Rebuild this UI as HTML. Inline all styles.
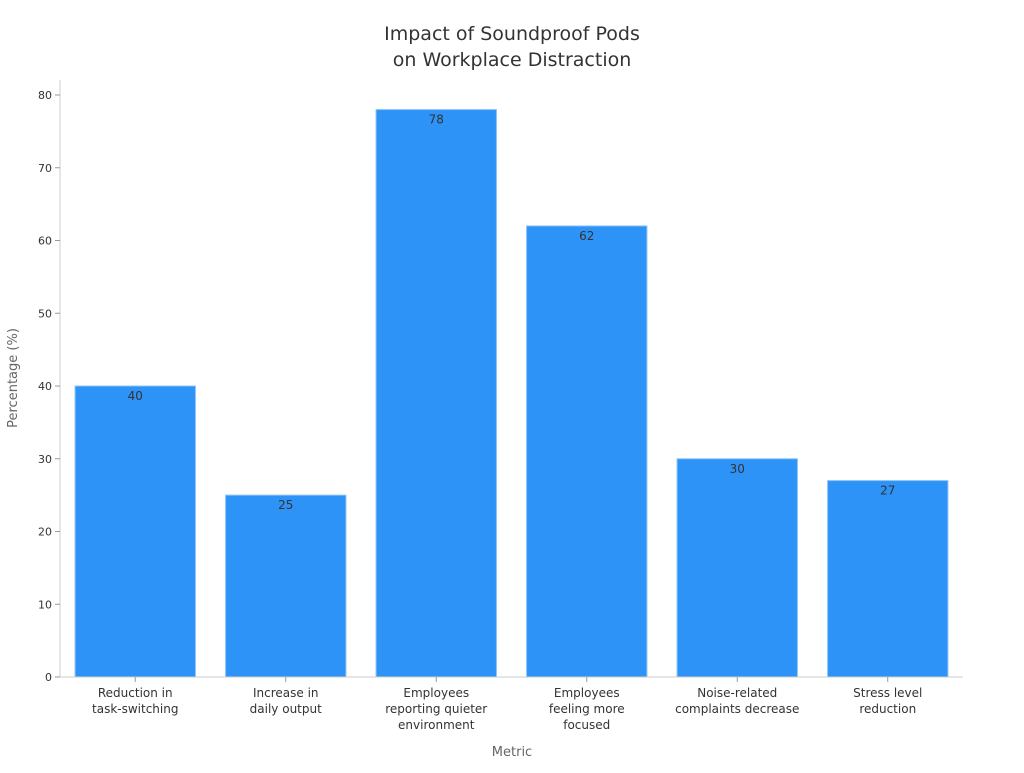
<!DOCTYPE html>
<html><head><meta charset="utf-8"><style>
body{margin:0;background:#fff;font-family:"Liberation Sans","DejaVu Sans",sans-serif;}
</style></head><body>
<svg id="chart" width="1024" height="768" xmlns="http://www.w3.org/2000/svg" font-family="DejaVu Sans, Liberation Sans, sans-serif">
<text x="512" y="40" text-anchor="middle" font-size="19" fill="#333">Impact of Soundproof Pods</text>
<text x="512" y="66" text-anchor="middle" font-size="19" fill="#333">on Workplace Distraction</text>
<text transform="translate(17,378) rotate(-90)" text-anchor="middle" font-size="13" fill="#666">Percentage (%)</text>
<text x="512" y="756" text-anchor="middle" font-size="13" fill="#666">Metric</text>
<g id="yaxis"></g>
<g id="bars"></g>
<g id="xaxis"></g>
</svg>
<script>
const categories=[["Reduction in","task-switching"],["Increase in","daily output"],["Employees","reporting quieter","environment"],["Employees","feeling more","focused"],["Noise-related","complaints decrease"],["Stress level","reduction"]];
const values=[40,25,78,62,30,27];
const yTicks=[0,10,20,30,40,50,60,70,80];
const NS="http://www.w3.org/2000/svg";
const x0=60,x1=963,yBase=677,yTop=95,yMax=80;
const y=v=>yBase-(v/yMax)*(yBase-yTop);
const band=(x1-x0)/categories.length,bw=band*0.8;
const xs=i=>x0+band*i+(band-bw)/2;
function mk(t,a,p){const e=document.createElementNS(NS,t);for(const k in a)e.setAttribute(k,a[k]);p.appendChild(e);return e;}
const ya=document.getElementById('yaxis'),xa=document.getElementById('xaxis'),bg=document.getElementById('bars');
let l=mk('line',{x1:x0,x2:x0,y1:80,y2:yBase,stroke:'#ccc'},ya);


yTicks.forEach(t=>{
 const tk=mk('line',{x1:x0-5,x2:x0,y1:y(t),y2:y(t),stroke:'#999'},ya);
 
 
 const tx=mk('text',{x:x0-8,y:y(t)+4,'text-anchor':'end','font-size':11,fill:'#333'},ya);
 tx.textContent=t;
 
 
});
const xl=mk('line',{x1:x0,x2:x1,y1:yBase,y2:yBase,stroke:'#ccc'},xa);


values.forEach((v,i)=>{
 const r=mk('rect',{x:xs(i),y:y(v),width:bw,height:yBase-y(v),fill:'#2E93F7',stroke:'#8cc4fa','stroke-width':1},bg);
 
 
 const t=mk('text',{x:xs(i)+bw/2,y:y(v)+14,'text-anchor':'middle','font-size':12,fill:'#333'},bg);
 t.textContent=v;
 
 
 const cx=xs(i)+bw/2;
 const tk=mk('line',{x1:cx,x2:cx,y1:yBase,y2:yBase+5,stroke:'#999'},xa);
 
 
 categories[i].forEach((s,j)=>{
  const c=mk('text',{x:cx,y:yBase+20+j*16,'text-anchor':'middle','font-size':12,fill:'#333'},xa);
  c.textContent=s;
  
  
 });
});
</script>
</body></html>
